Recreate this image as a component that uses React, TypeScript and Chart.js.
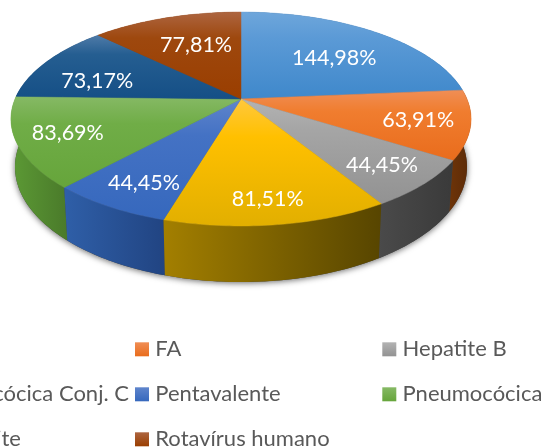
import React, { useEffect, useRef } from "react";
import { Chart, registerables } from "chart.js";

Chart.register(...registerables);

const categories = ["BCG", "FA", "Hepatite B", "Meningocócica Conj. C", "Pentavalente", "Pneumocócica", "Poliomielite", "Rotavírus humano"];
const values = [144.98, 63.91, 44.45, 81.51, 44.45, 83.69, 73.17, 77.81];
const valueLabels = ["144,98%", "63,91%", "44,45%", "81,51%", "44,45%", "83,69%", "73,17%", "77,81%"];

const topLight = ["#6ea6db", "#f08e55", "#b3b3b3", "#ffc83d", "#5f85cc", "#86b965", "#4f7ba8", "#ad6540"];
const topMid = ["#5b9ad6", "#f07d2f", "#a5a5a5", "#ffc000", "#4472c4", "#70ad47", "#255e91", "#9e480e"];
const topBase = ["#3f88cb", "#e96c1c", "#929292", "#e2af00", "#3668bd", "#66a53b", "#154f86", "#9a3e00"];
const wallLeft = ["#2c5f8f", "#6e3408", "#4a4a4a", "#a37f00", "#2f5fa8", "#5c9a35", "#123a60", "#6e2c00"];
const wallRight = ["#2c5f8f", "#5a2a08", "#3a3a3a", "#574500", "#214482", "#4a7a2a", "#123a60", "#6e2c00"];

const labelRadius = [0.62, 0.78, 0.796, 0.826, 0.8, 0.785, 0.68, 0.62];
const labelTurnDeg = [3.5, 0.7, 0, 0.6, -1.6, 0, -8, 2];

const K = 0.187;
const TOP = { cx: 241, cy: 99, r: 226, q: 103.2 };
const BOTTOM = { cx: 241, cy: 145.5, r: 222, q: 111 };

function project(g: typeof TOP, angle: number, f = 1) {
  const c = Math.cos(angle) * f;
  const s = Math.sin(angle) * f;
  const w = 1 - K * s;
  return { x: g.cx + (g.r * c) / w, y: g.cy + (g.q * s) / w };
}

function samples(start: number, end: number) {
  const n = Math.max(2, Math.ceil((end - start) / (Math.PI / 180)));
  const out: number[] = [];
  for (let i = 0; i <= n; i++) out.push(start + ((end - start) * i) / n);
  return out;
}

const pie3d = {
  id: "pie3d",
  beforeDatasetsDraw(chart: any) {
    const ctx = chart.ctx as CanvasRenderingContext2D;
    const arcs = chart.getDatasetMeta(0).data as any[];

    // soft shadow under the lower rim
    ctx.save();
    ctx.shadowColor = "rgba(0,0,0,0.6)";
    ctx.shadowBlur = 6;
    ctx.shadowOffsetY = 1;
    ctx.fillStyle = "#444";
    ctx.beginPath();
    samples(0, Math.PI * 2).forEach((a, i) => {
      const p = project(BOTTOM, a);
      i ? ctx.lineTo(p.x, p.y) : ctx.moveTo(p.x, p.y);
    });
    ctx.closePath();
    ctx.fill();
    ctx.restore();

    // walls, back to front
    const order = arcs
      .map((a, i) => ({ i, a }))
      .sort((p, q) => Math.sin((p.a.startAngle + p.a.endAngle) / 2) - Math.sin((q.a.startAngle + q.a.endAngle) / 2));
    order.forEach(({ i, a }) => {
      const as = samples(a.startAngle, a.endAngle);
      const tops = as.map((t) => project(TOP, t));
      const bots = as.map((t) => project(BOTTOM, t));
      const xs = tops.concat(bots).map((p) => p.x);
      const g = ctx.createLinearGradient(Math.min(...xs), 0, Math.max(...xs), 0);
      g.addColorStop(0, wallLeft[i]);
      g.addColorStop(1, wallRight[i]);
      ctx.fillStyle = g;
      ctx.beginPath();
      tops.forEach((p, j) => (j ? ctx.lineTo(p.x, p.y) : ctx.moveTo(p.x, p.y)));
      bots.reverse().forEach((p) => ctx.lineTo(p.x, p.y));
      ctx.closePath();
      ctx.fill();
    });

    // top faces
    arcs.forEach((a, i) => {
      const rim = samples(a.startAngle, a.endAngle).map((t) => project(TOP, t));
      const ys = rim.map((p) => p.y).concat(TOP.cy);
      const g = ctx.createLinearGradient(0, Math.min(...ys), 0, Math.max(...ys));
      g.addColorStop(0, topLight[i]);
      g.addColorStop(0.3, topMid[i]);
      g.addColorStop(1, topBase[i]);
      ctx.fillStyle = g;
      ctx.strokeStyle = g;
      ctx.lineWidth = 0.5;
      ctx.beginPath();
      ctx.moveTo(TOP.cx, TOP.cy);
      rim.forEach((p) => ctx.lineTo(p.x, p.y));
      ctx.closePath();
      ctx.fill();
      ctx.stroke();
    });

    // value labels
    ctx.fillStyle = "#ffffff";
    ctx.font = "21.5px Lato";
    ctx.textAlign = "center";
    ctx.textBaseline = "middle";
    arcs.forEach((a, i) => {
      const mid = (a.startAngle + a.endAngle) / 2 + (labelTurnDeg[i] * Math.PI) / 180;
      const p = project(TOP, mid, labelRadius[i]);
      ctx.fillText(valueLabels[i], p.x, p.y);
    });

    // legend: three columns, running off the left of the picture
    const colX = [-112.3, 135, 382.3];
    const rowY = [342.3, 387.3, 432.3];
    ctx.font = "22px Lato";
    ctx.textAlign = "left";
    ctx.textBaseline = "alphabetic";
    (chart.data.labels as string[]).forEach((label, i) => {
      const x = colX[i % 3];
      const y = rowY[Math.floor(i / 3)];
      const g = ctx.createLinearGradient(0, y, 0, y + 14);
      g.addColorStop(0, topLight[i]);
      g.addColorStop(1, topBase[i]);
      ctx.fillStyle = g;
      ctx.fillRect(x, y, 14, 14);
      ctx.fillStyle = "#595959";
      ctx.fillText(label, x + 20.3, y + 13.5);
    });
    return false;
  },
};

export default function App() {
  const ref = useRef<HTMLCanvasElement>(null);
  useEffect(() => {
    const chart = new Chart(ref.current!, {
      type: "pie",
      data: {
        labels: categories,
        datasets: [{ data: values, backgroundColor: topMid, borderWidth: 0 }],
      },
      options: {
        responsive: false,
        animation: false,
        plugins: { legend: { display: false }, tooltip: { enabled: false }, title: { display: false } },
      },
      plugins: [pie3d],
    } as any);
    return () => chart.destroy();
  }, []);
  return (
    <div style={{ position: "absolute", left: 0, top: 0, width: 545, height: 447, overflow: "hidden", background: "#fff" }}>
      <canvas ref={ref} width={545} height={447} style={{ display: "block" }} />
    </div>
  );
}
